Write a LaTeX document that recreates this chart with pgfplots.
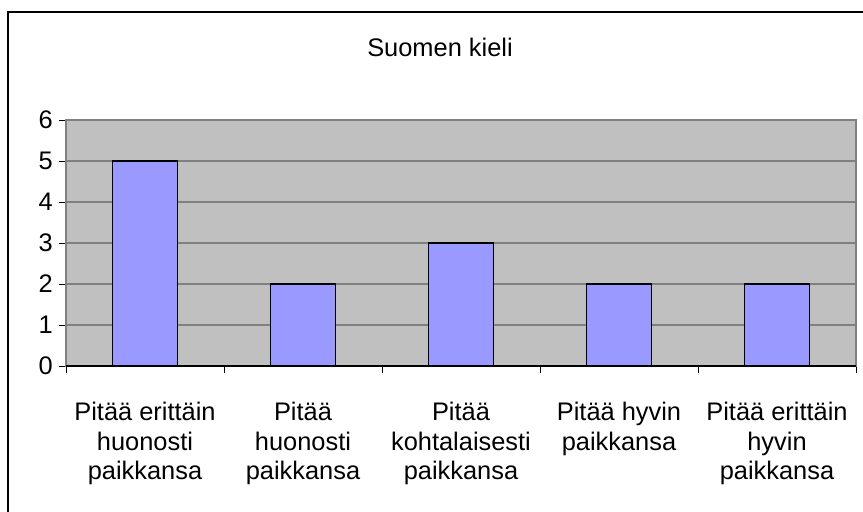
\documentclass[border=0pt]{standalone}
\usepackage{fontspec}
\setmainfont{Liberation Sans}
\usepackage{pgfplots}
\pgfplotsset{compat=1.18}
\definecolor{bggray}{HTML}{C0C0C0}
\definecolor{barblue}{HTML}{9999FF}
\definecolor{gridgray}{HTML}{808080}
\newcommand{\lab}{\fontsize{25.4bp}{29.5bp}\selectfont}
\begin{document}
\begin{tikzpicture}
\begin{axis}[
  at={(0,0)}, anchor=south west,
  scale only axis, width=790bp, height=246bp,
  xmin=-0.5, xmax=4.5, ymin=0, ymax=6,
  ytick={0,...,6},
  xtick={0,...,4},
  xticklabels={{Pitää erittäin\\huonosti\\paikkansa},{Pitää\\huonosti\\paikkansa},{Pitää\\kohtalaisesti\\paikkansa},{Pitää hyvin\\paikkansa},{Pitää erittäin\\hyvin\\paikkansa}},
  major x tick style={draw=none},
  minor xtick={-0.5,0.5,1.5,2.5,3.5,4.5},
  minor x tick style={draw=black, line width=1bp},
  major y tick style={draw=black, line width=1bp},
  tick align=outside, tick pos=left,
  major tick length=7bp, minor tick length=7bp,
  axis background/.style={fill=bggray},
  ymajorgrids, grid style={draw=gridgray, line width=1.3bp},
  axis line style={draw=gridgray, line width=1.3bp},
  /pgf/number format/assume math mode=true,
  yticklabel style={font=\lab, inner sep=0pt, xshift=-6bp},
  xticklabel style={font=\lab, align=center, inner sep=0pt, yshift=-29bp},
  ybar, bar width=65bp,
]
\addplot[fill=barblue, draw=black, line width=1.3bp] coordinates {(0,5) (1,2) (2,3) (3,2) (4,2)};
\draw[black, line width=1.3bp] (rel axis cs:0,0) -- (rel axis cs:1,0);
\end{axis}
\node[font=\lab, inner sep=0pt] at (374bp,319bp) {Suomen kieli};
\draw[line width=2bp] (-58bp,-160bp) -- (-58bp,354bp) -- (810bp,354bp);
\pgfresetboundingbox
\useasboundingbox (-66bp,-146bp) rectangle (797bp,366bp);
\end{tikzpicture}
\end{document}
